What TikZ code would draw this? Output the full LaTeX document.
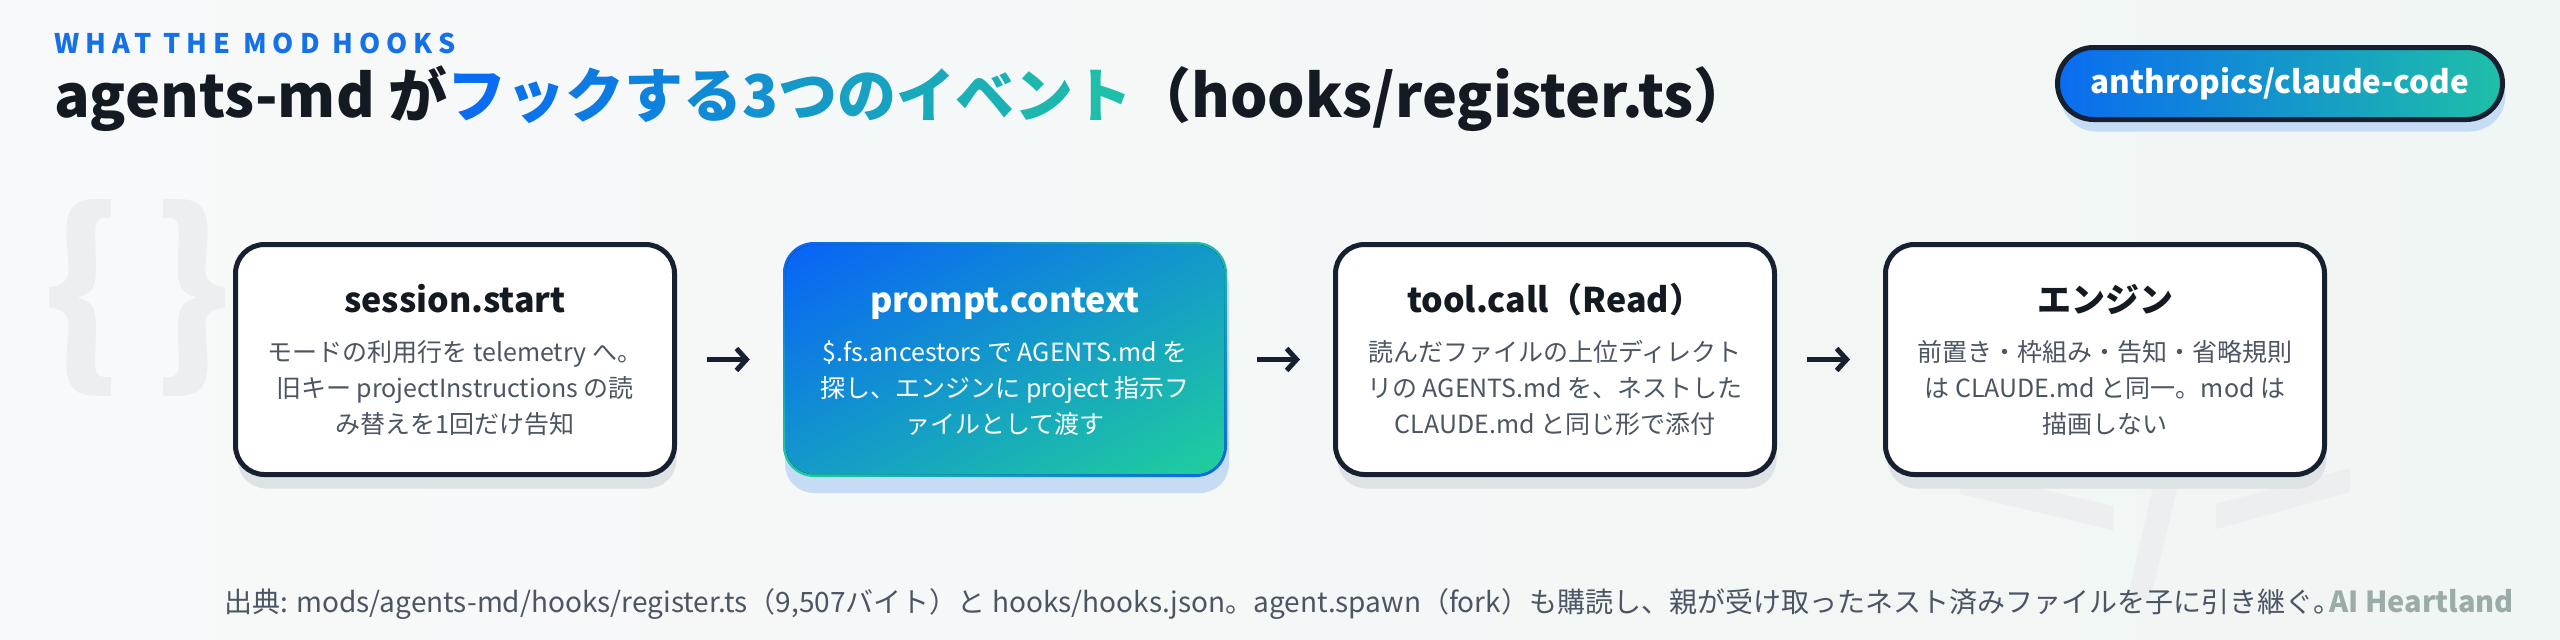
\documentclass[tikz,border=0pt]{standalone}
\usepackage{fontspec}
\setmainfont{Noto Sans CJK JP}
\usetikzlibrary{arrows.meta,shadings}
\definecolor{ink}{HTML}{162030}
\definecolor{titleink}{HTML}{141A22}
\definecolor{bodyc}{HTML}{4B5563}
\definecolor{tblue}{HTML}{0A6CF0}
\definecolor{tteal}{HTML}{1EBFA8}
\definecolor{gblue}{HTML}{0862F7}
\definecolor{gteal}{HTML}{1FD09C}
\definecolor{kicker}{HTML}{1670E6}
\definecolor{bgl}{HTML}{F8F9FA}
\definecolor{bgr}{HTML}{F0F6F4}
\definecolor{wm}{HTML}{ECEEEF}
\definecolor{gshadow}{HTML}{DDE2E5}
\definecolor{bshadow}{HTML}{C6DCF5}
\definecolor{brand}{HTML}{9BABA7}
\tikzset{
  evbox/.style={draw=ink, line width=5pt, fill=white, rounded corners=29pt, minimum width=439pt, minimum height=230pt, inner sep=0pt},
  evtitle/.style={anchor=base, inner sep=0pt, text=titleink, font=\bfseries\fontsize{34}{40}\selectfont},
  evbody/.style={anchor=base, inner sep=0pt, align=center, text=bodyc, font=\fontsize{25}{36}\selectfont},
  conn/.style={draw=ink, line width=5pt, -{Straight Barb[length=10pt, width=22pt]}, shorten <=30pt, shorten >=33pt},
  shadowbox/.style={rounded corners=29pt},
}
\begin{document}
\begin{tikzpicture}[x=1pt,y=-1pt]
\useasboundingbox (0,0) rectangle (2560,640);
\fill[left color=bgl, right color=bgr] (0,0) rectangle (2560,640);
% watermarks
\node[inner sep=0pt, text=wm, font=\bfseries\fontsize{200}{200}\selectfont] (wmbrace) at (137,298) {\{\hspace{30pt}\}};
\fill[wm] (1960,470) -- (2113,506) -- (2113,530) -- (1960,494) -- cycle;
\fill[wm] (2157,470) -- (2182,470) -- (2150,600) -- (2127,600) -- cycle;
\fill[wm] (2216,504) -- (2350,468) -- (2350,492) -- (2216,529) -- cycle;
% kicker and title
\node[anchor=base west, inner sep=0pt, text=kicker, font=\bfseries\fontsize{27}{30}\selectfont\addfontfeatures{LetterSpace=22.5}] (kick) at (54,53) {WHAT THE MOD HOOKS};
\node[anchor=base west, inner sep=0pt, text=titleink, font=\bfseries\fontsize{59}{64}\selectfont] (title) at (54,117) {agents-md が{\color{tteal!0!tblue}フ}{\color{tteal!9!tblue}ッ}{\color{tteal!18!tblue}ク}{\color{tteal!27!tblue}す}{\color{tteal!36!tblue}る}{\color{tteal!45!tblue}3}{\color{tteal!55!tblue}つ}{\color{tteal!64!tblue}の}{\color{tteal!73!tblue}イ}{\color{tteal!82!tblue}ベ}{\color{tteal!91!tblue}ン}{\color{tteal!100!tblue}ト}（hooks/register.ts）};
% badge
\fill[bshadow, rounded corners=36pt] (2060.5,59.5) rectangle (2505.5,131.5);
\node[draw=ink, line width=5pt, left color=tblue, right color=tteal, rounded corners=36pt, minimum width=445pt, minimum height=72pt, inner sep=0pt, text=white, font=\bfseries\fontsize{31.5}{38}\selectfont] (badge) at (2280,83.5) {anthropics/claude-code};
% shadows
\fill[gshadow, shadowbox] (237.5,258.5) rectangle (676.5,488.5);
\fill[bshadow, shadowbox] (785,258) rectangle (1229,493);
\fill[gshadow, shadowbox] (1337.5,258.5) rectangle (1776.5,488.5);
\fill[gshadow, shadowbox] (1887.5,258.5) rectangle (2326.5,488.5);
% boxes
\node[evbox] (b1) at (455,359.5) {};
\node[rounded corners=31pt, minimum width=444pt, minimum height=235pt, inner sep=0pt, upper left=gblue, upper right=tteal, lower left=gteal, lower right=gblue] (b2) at (1005,359.5) {};
\fill[rounded corners=28pt, upper left=gblue, upper right=gblue!50!gteal, lower left=gblue!50!gteal, lower right=gteal] ([shift={(3pt,-3pt)}]b2.north west) rectangle ([shift={(-3pt,3pt)}]b2.south east);
\node[evbox] (b3) at (1555,359.5) {};
\node[evbox] (b4) at (2105,359.5) {};
% texts
\node[evtitle] (t1) at (455,312) {session.start};
\node[evbody] (d1) at (455,433) {モードの利用行を telemetry へ。\\旧キー projectInstructions の読\\み替えを1回だけ告知};
\node[evtitle, text=white] (t2) at (1005,312) {prompt.context};
\node[evbody, text=white] (d2) at (1005,433) {\$.fs.ancestors で AGENTS.md を\\探し、エンジンに project 指示フ\\ァイルとして渡す};
\node[evtitle] (t3) at (1555,312) {tool.call（Read）};
\node[evbody] (d3) at (1555,433) {読んだファイルの上位ディレクト\\リの AGENTS.md を、ネストした\\CLAUDE.md と同じ形で添付};
\node[evtitle] (t4) at (2105,312) {エンジン};
\node[evbody] (d4) at (2105,433) {前置き・枠組み・告知・省略規則\\は CLAUDE.md と同一。mod は\\描画しない};
% connectors
\draw[conn] (b1.east) -- (b2.west);
\draw[conn] (b2.east) -- (b3.west);
\draw[conn] (b3.east) -- (b4.west);
% footer
\node[anchor=base west, inner sep=0pt, text=bodyc, font=\fontsize{28}{32}\selectfont] (foot) at (224,612) {出典: mods/agents-md/hooks/register.ts（9,507バイト）と hooks/hooks.json。agent.spawn（fork）も購読し、親が受け取ったネスト済みファイルを子に引き継ぐ。};
\node[anchor=base east, inner sep=0pt, text=brand, font=\bfseries\fontsize{29}{32}\selectfont] (brandn) at (2514,612) {AI Heartland};
\end{tikzpicture}
\end{document}
